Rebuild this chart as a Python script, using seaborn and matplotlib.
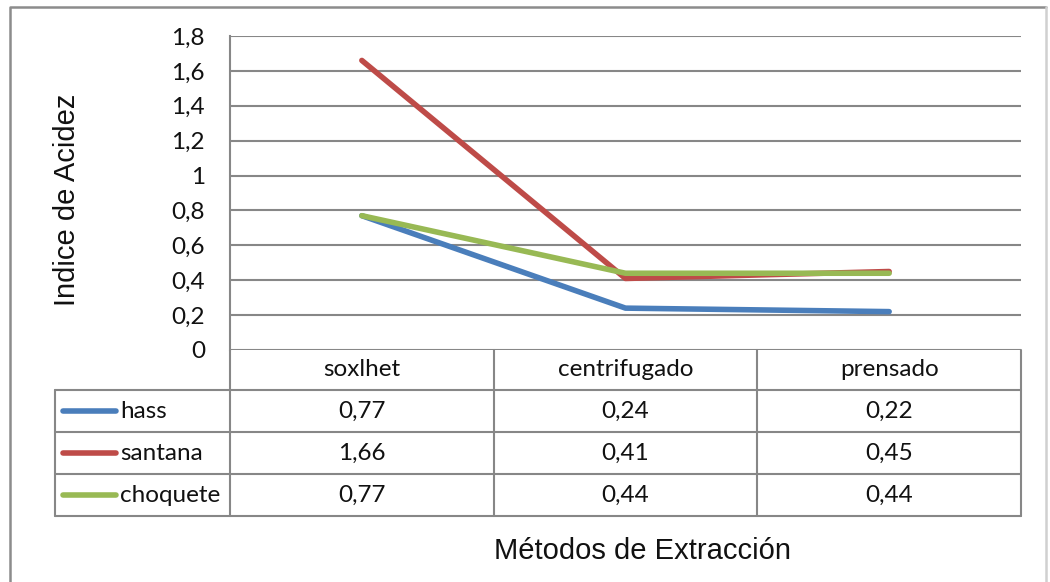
import matplotlib
matplotlib.use("Agg")
import matplotlib.pyplot as plt
import seaborn as sns
import pandas as pd

# ---- data ----
categories = ["soxlhet", "centrifugado", "prensado"]
series_names = ["hass", "santana", "choquete"]
hass = [0.77, 0.24, 0.22]
santana = [1.66, 0.41, 0.45]
choquete = [0.77, 0.44, 0.44]
y_ticks = [0, 0.2, 0.4, 0.6, 0.8, 1.0, 1.2, 1.4, 1.6, 1.8]
y_tick_labels = ["0", "0,2", "0,4", "0,6", "0,8", "1", "1,2", "1,4", "1,6", "1,8"]
colors = ["#4A7EBB", "#BE4B48", "#98B954"]
x_title = "Métodos de Extracción"
y_title = "Indice de Acidez"

values = {"hass": hass, "santana": santana, "choquete": choquete}
rows = []
for s in series_names:
    for i, c in enumerate(categories):
        rows.append({"series": s, "pos": i, "cat": c, "value": values[s][i]})
df = pd.DataFrame(rows)

sns.set_style("white")
NUM_FONT = ["Lato", "DejaVu Sans"]
TITLE_FONT = ["Liberation Sans", "DejaVu Sans"]
GRID = "#878787"
TXT = "#111111"
FS = 17.5

W, H = 1050, 582
fig = plt.figure(figsize=(W / 100, H / 100), dpi=100)
fig.patch.set_facecolor("white")


def rect(l, t, r, b):
    return [l / W, 1 - b / H, (r - l) / W, (b - t) / H]


L, T, R, B = 230, 36, 1021, 350
ax = fig.add_axes(rect(L, T, R, B))
sns.lineplot(data=df, x="pos", y="value", hue="series", hue_order=series_names,
             palette=colors, linewidth=4, legend=False, ax=ax,
             solid_capstyle="round", zorder=3)
ax.set_xlim(-0.5, len(categories) - 0.5)
ax.set_ylim(0, 1.8)
ax.set_yticks(y_ticks)
ax.set_yticklabels(y_tick_labels, fontfamily=NUM_FONT, fontsize=FS, color=TXT)
ax.set_xticks([])
ax.set_xlabel("")
ax.set_ylabel("")
ax.tick_params(axis="y", length=0, pad=18)
for sp in ["top", "right", "bottom"]:
    ax.spines[sp].set_visible(False)
ax.spines["left"].set_color(GRID)
ax.spines["left"].set_linewidth(1.5)
for yv in y_ticks:
    ax.axhline(yv, color=GRID, linewidth=1.5, zorder=1)

# ---- overlay for table, frame, titles ----
ov = fig.add_axes([0, 0, 1, 1], facecolor="none")
ov.set_xlim(0, W)
ov.set_ylim(H, 0)
ov.axis("off")

# outer frame
ov.plot([10, 10, 1046], [H + 2, 7, 7], color="#8C8C8C", linewidth=1.8)
ov.plot([1046, 1046], [7, H + 2], color="#D0D0D0", linewidth=1.8)

n = len(categories)
colw = (R - L) / n
col_edges = [L + i * colw for i in range(n + 1)]
head_top, head_bot = B, 390
row_h = 42
tab_left = 55
tab_bot = head_bot + row_h * len(series_names)

for xe in col_edges:
    ov.plot([xe, xe], [head_top, tab_bot], color=GRID, linewidth=1.5)
ov.plot([tab_left, tab_left], [head_bot, tab_bot], color=GRID, linewidth=1.5)
for k in range(len(series_names) + 1):
    yy = head_bot + k * row_h
    ov.plot([tab_left, R], [yy, yy], color=GRID, linewidth=1.5)

# header
for i, c in enumerate(categories):
    ov.text(col_edges[i] + colw / 2, (head_top + head_bot) / 2, c,
            ha="center", va="center", fontsize=FS, fontfamily=NUM_FONT, color=TXT)

# rows
for k, s in enumerate(series_names):
    yc = head_bot + k * row_h + row_h / 2
    ov.plot([63, 116], [yc, yc], color=colors[k], linewidth=4, solid_capstyle="round")
    ov.text(120, yc, s, ha="left", va="center", fontsize=FS, fontfamily=NUM_FONT, color=TXT)
    for i in range(n):
        txt = f"{values[s][i]:.2f}".replace(".", ",")
        ov.text(col_edges[i] + colw / 2, yc, txt, ha="center", va="center",
                fontsize=FS, fontfamily=NUM_FONT, color=TXT)

# titles
ov.text(643, 551, x_title, ha="center", va="center", fontsize=21,
        fontfamily=TITLE_FONT, color=TXT)
ov.text(67, 200, y_title, ha="center", va="center", rotation=90,
        fontsize=21, fontfamily=TITLE_FONT, color=TXT)

fig.savefig("out.png", dpi=100, facecolor="white")
